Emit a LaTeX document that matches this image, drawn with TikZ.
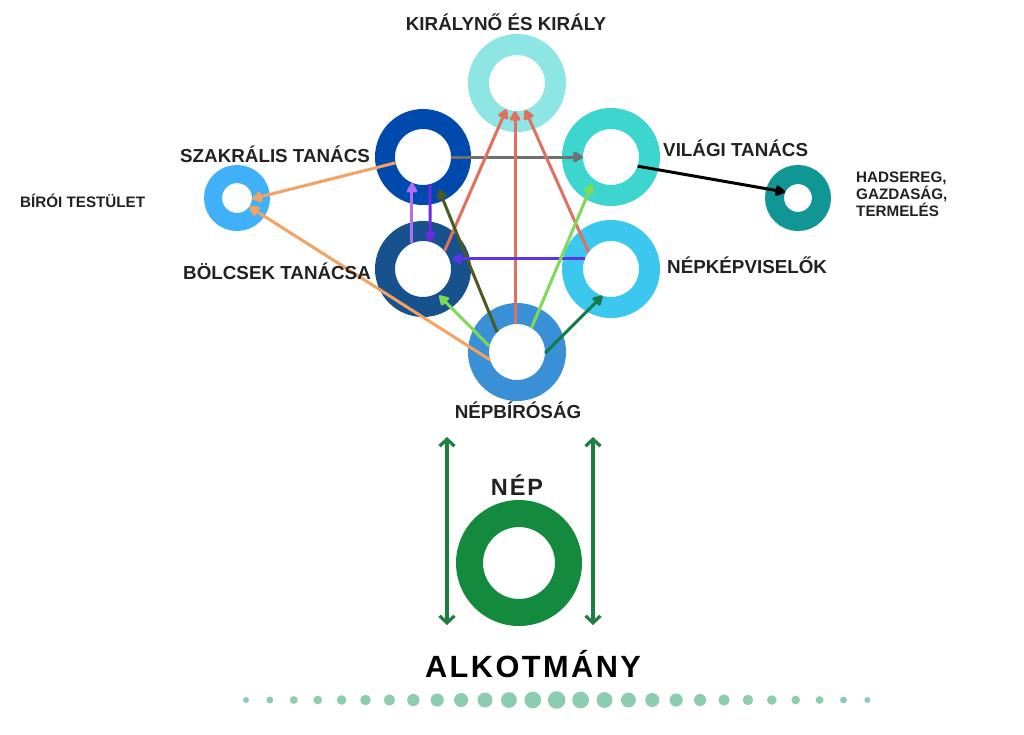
\documentclass[tikz,border=0pt]{standalone}
\usepackage{fontspec}
\setmainfont{Liberation Sans}
\newfontfamily\spacedfont[LetterSpace=8]{Liberation Sans}
\usetikzlibrary{arrows.meta}
\definecolor{kircol}{HTML}{8EE6E4}
\definecolor{szakcol}{HTML}{004AAD}
\definecolor{vilcol}{HTML}{3DD6CF}
\definecolor{bolcscol}{HTML}{17528E}
\definecolor{nepkcol}{HTML}{3CC8EE}
\definecolor{nepbcol}{HTML}{3A90D6}
\definecolor{birocol}{HTML}{40B0F8}
\definecolor{hadcol}{HTML}{119696}
\definecolor{nepcol}{HTML}{138A3E}
\definecolor{greenarr}{HTML}{1D7F3C}
\definecolor{orangearr}{HTML}{F4A261}
\definecolor{redarr}{HTML}{E07060}
\definecolor{lilacarr}{HTML}{B26EF2}
\definecolor{violetarr}{HTML}{6A2BE8}
\definecolor{bluearr}{HTML}{5B35E6}
\definecolor{olivearr}{HTML}{4A5A25}
\definecolor{lgreenarr}{HTML}{7ED957}
\definecolor{dgreenarr}{HTML}{137A4A}
\definecolor{grayarr}{HTML}{707070}
\definecolor{dotcol}{HTML}{8CCDB0}
\definecolor{txtcol}{HTML}{222222}
\begin{document}
\begin{tikzpicture}[x=1pt,y=-1pt,
  hole/.style={circle, inner sep=0pt, minimum size=#1},
  arr/.style={line width=3pt, -{Triangle[length=11pt,width=12pt,round]}},
  lbl/.style={font=\bfseries\fontsize{18.8}{20}\selectfont, text=txtcol, inner sep=0pt},
  slbl/.style={font=\bfseries\fontsize{15.2}{16.7}\selectfont, text=txtcol, inner sep=0pt},
  dbl/.style={line width=3.2pt, draw=greenarr, {Straight Barb[length=7pt,width=15pt]}-{Straight Barb[length=7pt,width=15pt]}}
]
\useasboundingbox (0,0) rectangle (1024,734);
\fill[white] (0,0) rectangle (1024,734);

% ring holes (node borders are the inner circles)
\node[hole=56pt] (kir) at (517,83) {};
\node[hole=56pt] (szak) at (423,157) {};
\node[hole=56pt] (vil) at (611,157) {};
\node[hole=56pt] (bolcs) at (423,269) {};
\node[hole=56pt] (nepk) at (611,269) {};
\node[hole=56pt] (nepb) at (517,352) {};
\node[hole=30pt] (biro) at (237,198) {};
\node[hole=28pt] (had) at (798,198) {};
\node[hole=72pt] (nep) at (519,563) {};

% rings
\draw[kircol, line width=21pt] (kir.center) circle[radius=38.5pt];
\draw[szakcol, line width=20pt] (szak.center) circle[radius=38pt];
\draw[vilcol, line width=21pt] (vil.center) circle[radius=38.5pt];
\draw[bolcscol, line width=20pt] (bolcs.center) circle[radius=38pt];
\draw[nepkcol, line width=21pt] (nepk.center) circle[radius=38.5pt];
\draw[nepbcol, line width=21pt] (nepb.center) circle[radius=38.5pt];
\draw[birocol, line width=18pt] (biro.center) circle[radius=24pt];
\draw[hadcol, line width=19pt] (had.center) circle[radius=23.5pt];
\draw[nepcol, line width=27pt] (nep.center) circle[radius=49.5pt];

% connectors
\draw[arr, grayarr] (szak.0) -- (vil.180);
\draw[arr, orangearr] (szak.192) -- (biro.357);
\draw[arr, orangearr] (nepb.196) -- (biro.325);
\draw[arr, redarr] (bolcs.40) -- (kir.248);
\draw[arr, redarr] (nepb.94) -- (kir.266);
\draw[arr, redarr] (nepk.143) -- (kir.287);
\draw[arr, lilacarr] (bolcs.113) -- (szak.247);
\draw[arr, violetarr] (szak.284.5) -- (bolcs.75.5);
\draw[arr, olivearr, shorten >=8pt] (nepb.135) -- (szak.297);
\draw[arr, bluearr, shorten >=3pt] (nepk.159) -- (bolcs.21);
\draw[arr, lgreenarr, shorten >=3pt] (nepb.168) -- (bolcs.300);
\draw[arr, lgreenarr, shorten >=5pt] (nepb.59) -- (vil.233);
\draw[arr, dgreenarr] (nepb.358) -- (nepk.252);
\draw[arr, black] (vil.341) -- (had.155);

% side double arrows
\coordinate (la1) at (447,437);
\coordinate (la2) at (447,625);
\coordinate (ra1) at (593,437);
\coordinate (ra2) at (593,625);
\draw[dbl] (la1) -- (la2);
\draw[dbl] (ra1) -- (ra2);

% labels
\node[lbl, anchor=base] (tkir) at (506,30) {KIRÁLYNŐ ÉS KIRÁLY};
\node[lbl, anchor=base west] (tszak) at (180,162.7) {SZAKRÁLIS TANÁCS};
\node[lbl, anchor=base west] (tbolcs) at (183,279) {BÖLCSEK TANÁCSA};
\node[slbl, anchor=base west] (tbiro) at (20,207.7) {BÍRÓI TESTÜLET};
\node[lbl, anchor=base west] (tvil) at (663,156.7) {VILÁGI TANÁCS};
\node[lbl, anchor=base west] (tnepk) at (667,273.3) {NÉPKÉPVISELŐK};
\node[lbl, anchor=base] (tnepb) at (518,418) {NÉPBÍRÓSÁG};
\node[slbl, anchor=base west, align=left] (thad) at (856,216) {HADSEREG,\\GAZDASÁG,\\TERMELÉS};
\node[font=\spacedfont\bfseries\fontsize{23.5}{25}\selectfont, text=txtcol, inner sep=0pt, anchor=base] (tnep) at (517,495) {NÉP};
\node[font=\spacedfont\bfseries\fontsize{30.7}{32}\selectfont, text=black, inner sep=0pt, anchor=base] (talk) at (533,677) {ALKOTMÁNY};

% dotted line
\foreach \i in {0,...,26} {
  \pgfmathsetmacro\rr{3+5.8*(1-abs(\i-13)/13)}
  \fill[dotcol] (246+\i*23.9,700) circle[radius=\rr pt];
}
\end{tikzpicture}
\end{document}
